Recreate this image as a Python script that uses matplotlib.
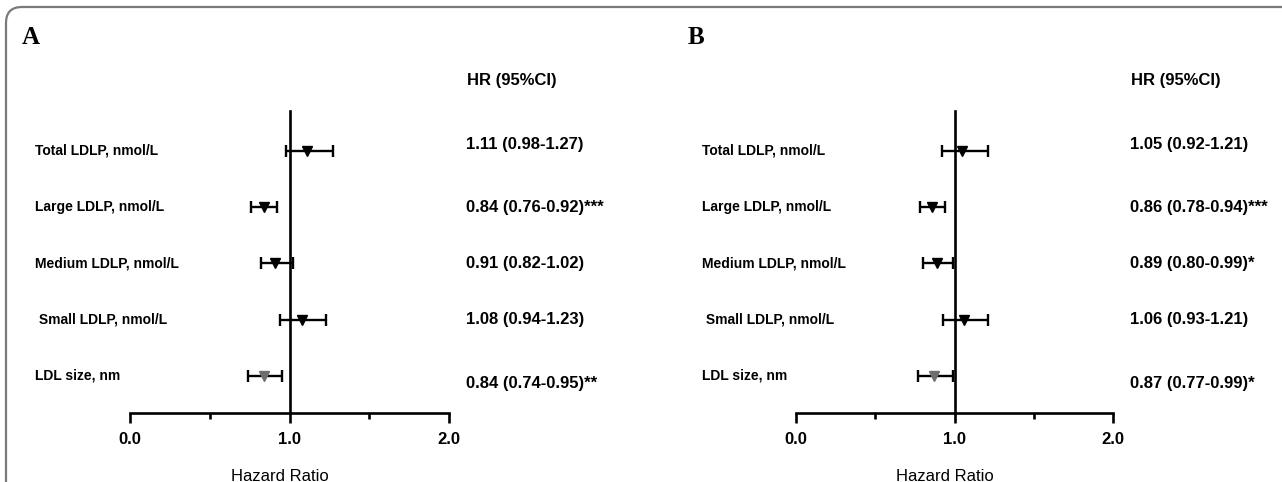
import matplotlib.pyplot as plt
from matplotlib.patches import FancyBboxPatch
from matplotlib.transforms import IdentityTransform

plt.rcParams['font.family'] = ['Liberation Sans', 'DejaVu Sans']

# forest plot data: hazard ratio with 95% CI per lipoprotein measure
labels = ['Total LDLP, nmol/L', 'Large LDLP, nmol/L', 'Medium LDLP, nmol/L',
          ' Small LDLP, nmol/L', 'LDL size, nm']
hr_a = [1.11, 0.84, 0.91, 1.08, 0.84]
lo_a = [0.98, 0.76, 0.82, 0.94, 0.74]
hi_a = [1.27, 0.92, 1.02, 1.23, 0.95]
sig_a = ['', '***', '', '', '**']

hr_b = [1.05, 0.86, 0.89, 1.06, 0.87]
lo_b = [0.92, 0.78, 0.80, 0.93, 0.77]
hi_b = [1.21, 0.94, 0.99, 1.21, 0.99]
sig_b = ['', '***', '*', '', '*']

rows = [5, 4, 3, 2, 1]
marker_colors = ['black', 'black', 'black', 'black', '#6e6e6e']
text_shift = [0.11, 0, 0, 0, -0.14]

W, H = 1282, 482
fig = plt.figure(figsize=(W / 100, H / 100), dpi=100)

# rounded panel frame, running off the right/bottom edges
frame = FancyBboxPatch((6, -40), 1320, H - 7 + 40,
                       boxstyle='round,pad=0,rounding_size=16',
                       transform=IdentityTransform(), fill=False,
                       edgecolor='#7a7a7a', linewidth=1.6)
fig.patches.append(frame)


def px_axes(left, right, top, bottom):
    return fig.add_axes([left / W, 1 - bottom / H, (right - left) / W, (bottom - top) / H])


def draw_panel(ax, letter, letter_x, hr, lo, hi, sig):
    ax.set_xlim(0, 2)
    ax.set_ylim(0.342, 5.711)
    for y, h, l, u, c in zip(rows, hr, lo, hi, marker_colors):
        ax.errorbar(h, y, xerr=[[h - l], [u - h]], fmt='v', ms=6.5,
                    mfc=c, mec=c, ecolor='black', elinewidth=1.7,
                    capsize=4.5, capthick=1.7, clip_on=False, zorder=3)

    for s in ['top', 'right']:
        ax.spines[s].set_visible(False)
    ax.spines['left'].set_position(('data', 1))
    ax.spines['left'].set_linewidth(1.9)
    ax.spines['bottom'].set_linewidth(1.9)
    ax.set_yticks([])
    ax.set_xticks([0, 1, 2])
    ax.set_xticklabels(['0.0', '1.0', '2.0'], fontsize=12, fontweight='bold')
    ax.set_xticks([0.5, 1.5], minor=True)
    ax.tick_params(axis='x', which='major', length=7, width=1.9, pad=7)
    ax.tick_params(axis='x', which='minor', length=4.5, width=1.9)

    for y, name, h, l, u, s, dy in zip(rows, labels, hr, lo, hi, sig, text_shift):
        ax.text(-0.594, y, name, fontsize=10, fontweight='bold',
                ha='left', va='center', clip_on=False)
        ax.text(2.105, y + dy, f'{h:.2f} ({l:.2f}-{u:.2f}){s}', fontsize=12,
                fontweight='bold', ha='left', va='center', clip_on=False)

    ax.text(2.112, 6.26, 'HR (95%CI)', fontsize=12, fontweight='bold',
            ha='left', va='center', clip_on=False)
    ax.text(0.469, -0.21, 'Hazard Ratio', fontsize=12, ha='center',
            va='center', transform=ax.transAxes)
    fig.text(letter_x / W, 1 - 38 / H, letter, fontsize=18, fontweight='bold',
             family='Liberation Serif', ha='left', va='center')


ax_a = px_axes(130, 449, 111, 413)
draw_panel(ax_a, 'A', 22, hr_a, lo_a, hi_a, sig_a)

ax_b = px_axes(796, 1113, 111, 413)
draw_panel(ax_b, 'B', 688, hr_b, lo_b, hi_b, sig_b)

fig.savefig('out.png', dpi=100)
